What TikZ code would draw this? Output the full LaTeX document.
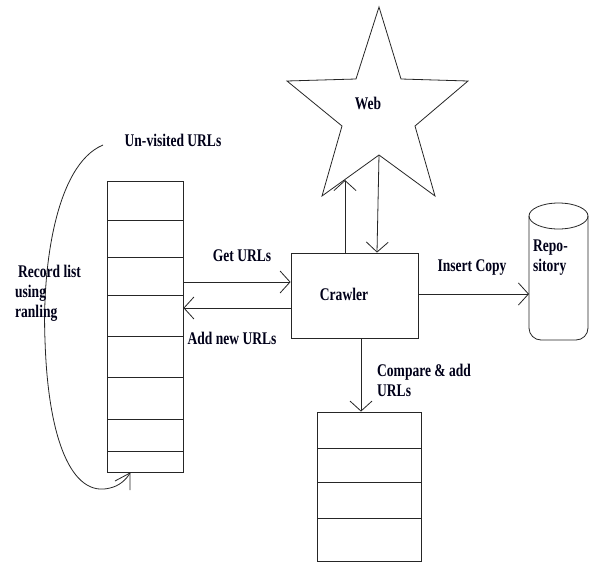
\documentclass[tikz,border=0pt]{standalone}
\usepackage{fontspec}
\setmainfont{Liberation Serif}[FakeStretch=0.76]
\usetikzlibrary{arrows.meta,calc}
\begin{document}
\begin{tikzpicture}[x=1pt,y=-1pt,
  ln/.style={draw=black!85,line width=0.8pt},
  arr/.style={ln,-{Straight Barb[length=10pt,width=22pt]}},
  lbl/.style={font=\fontsize{17.8}{20}\selectfont\bfseries,inner sep=0pt,text=black!90!blue},
  box/.style={ln,rectangle,inner sep=0pt}]
\useasboundingbox (0,0) rectangle (590,562);
\fill[white] (0,0) rectangle (590,562);

% left list (un-visited URLs)
\node[box,minimum width=76pt,minimum height=291pt] (list) at (145,326.5) {};
\foreach \yy in {220,257,295,336,377,419,451}
  \draw[ln] (107,\yy) -- (183,\yy);

% crawler
\node[box,minimum width=127pt,minimum height=85pt] (crawler) at (354.5,295.5) {};
\node[lbl] (crawlertxt) at (344,294) {Crawler};

% bottom list
\node[box,minimum width=104pt,minimum height=149pt] (blist) at (369,486.5) {};
\foreach \yy in {448,482,518}
  \draw[ln] (317,\yy) -- (421,\yy);

% web star
\coordinate (s1) at (379,7);
\coordinate (s2) at (401,79);
\coordinate (s3) at (468,81);
\coordinate (s4) at (415,126);
\coordinate (s5) at (435,196);
\coordinate (s6) at (379,155);
\coordinate (s7) at (322,196);
\coordinate (s8) at (342,126);
\coordinate (s9) at (287,81);
\coordinate (s10) at (356,79);
\draw[ln,line join=miter] (s1)--(s2)--(s3)--(s4)--(s5)--(s6)--(s7)--(s8)--(s9)--(s10)--cycle;
\node[lbl] (web) at (368,103) {Web};

% repository cylinder
\draw[ln,rounded corners=12pt] (529,216) -- (529,340) -- (588,340) -- (588,216);
\draw[ln] (558.5,216) ellipse [x radius=29.5pt, y radius=13pt];
\coordinate (repo) at (529,294);
\node[lbl,align=left,anchor=west] (repotxt) at (533,258) {Repo-\\sitory};

% connectors
\coordinate (gy) at (0,282);
\coordinate (ay) at (0,308);
\draw[arr] (list.east |- gy) -- (crawler.west |- gy);
\draw[arr] (crawler.west |- ay) -- (list.east |- ay);
\coordinate (upx) at (345,180);
\draw[arr] (crawler.north -| upx) -- (upx);
\coordinate (dnx) at (377,0);
\draw[arr] (s6) -- (crawler.north -| dnx);
\draw[arr] (crawler.east |- repo) -- (repo);
\coordinate (cx) at (361,0);
\draw[arr] (crawler.south -| cx) -- (blist.north -| cx);

% curved arrow around left list
\coordinate (cs) at (103,145);
\coordinate (ce) at (130,473);
\draw[ln] (cs) .. controls (55,165) and (42,270) .. (45,340)
  .. controls (48,440) and (72,498) .. (110,488)
  .. controls (119,486) and (126,480) .. (ce);
\draw[ln] (115,481) -- (ce) -- (130,490);

% labels
\node[lbl] (unv) at (173,140) {Un-visited URLs};
\node[lbl,align=left,anchor=west] (rec) at (15,293) {\hspace{3pt}Record list\\using\\ranling};
\node[lbl] (get) at (242,256) {Get URLs};
\node[lbl] (add) at (232,338) {Add new URLs};
\node[lbl] (ins) at (472,268) {Insert Copy};
\node[lbl,align=left,anchor=west] (cmp) at (377,380) {Compare \& add\\URLs};
\end{tikzpicture}
\end{document}
